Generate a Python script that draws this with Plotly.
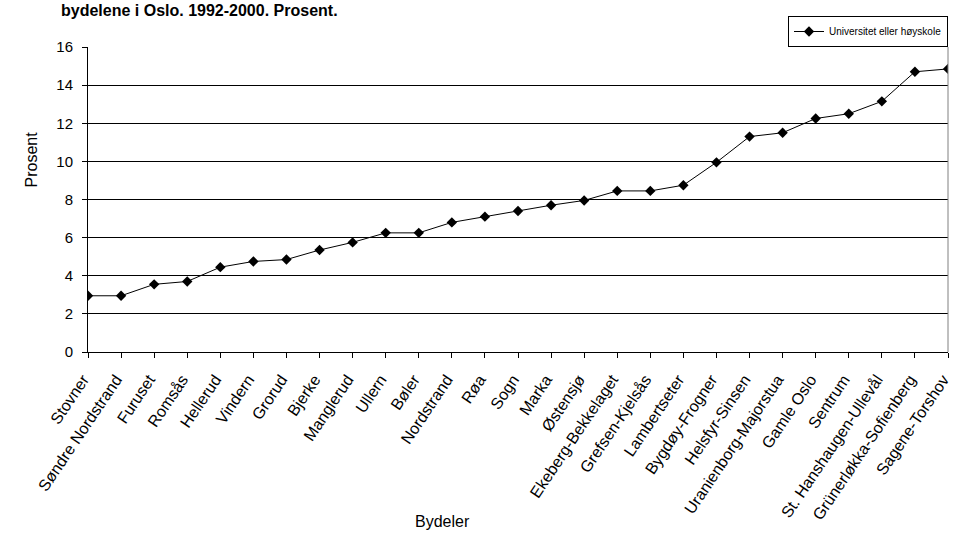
import plotly.graph_objects as go

bydeler = ["Stovner", "Søndre Nordstrand", "Furuset", "Romsås", "Hellerud", "Vindern",
           "Grorud", "Bjerke", "Manglerud", "Ullern", "Bøler", "Nordstrand", "Røa", "Sogn",
           "Marka", "Østensjø", "Ekeberg-Bekkelaget", "Grefsen-Kjelsås", "Lambertseter",
           "Bygdøy-Frogner", "Helsfyr-Sinsen", "Uranienborg-Majorstua", "Gamle Oslo",
           "Sentrum", "St. Hanshaugen-Ullevål", "Grünerløkka-Sofienberg", "Sagene-Torshov"]
prosent = [2.95, 2.95, 3.55, 3.7, 4.45, 4.75, 4.85, 5.35, 5.75, 6.25, 6.25, 6.8, 7.1, 7.4,
           7.7, 7.95, 8.45, 8.45, 8.75, 9.95, 11.3, 11.5, 12.25, 12.5, 13.15, 14.7, 14.85]
y_ticks = [0, 2, 4, 6, 8, 10, 12, 14, 16]

FONT = "Liberation Sans, Arial, sans-serif"
W, H = 954, 544
L, R, T, B = 88, 6, 47, 192
PW, PH = W - L - R, H - T - B

fig = go.Figure()
fig.add_trace(go.Scatter(
    x=list(range(len(bydeler))), y=prosent, mode="lines+markers",
    name="Universitet eller høyskole",
    line=dict(color="#000000", width=1),
    marker=dict(symbol="diamond", size=8, color="#000000"),
))

fig.update_layout(
    width=W, height=H,
    margin=dict(l=L, r=R, t=T, b=B, autoexpand=False),
    paper_bgcolor="white", plot_bgcolor="white",
    font=dict(family=FONT, color="#000000", size=12),
    title=dict(text="<b>bydelene i Oslo. 1992-2000. Prosent.</b>", x=61/W, xanchor="left",
               xref="container", y=1 - 10/H, yanchor="middle", yref="container",
               font=dict(size=16, family=FONT)),
    showlegend=True,
    legend=dict(x=948/W, xanchor="right", xref="container",
                y=1 - 16/H, yanchor="top", yref="container",
                bordercolor="#000000", borderwidth=1, bgcolor="white",
                font=dict(size=10, family=FONT), itemwidth=30,
                tracegroupgap=0),
    xaxis=dict(
        tickmode="array", tickvals=list(range(len(bydeler))), ticktext=bydeler,
        range=[0, len(bydeler) - 1], tickangle=-56, showgrid=False,
        showline=True, linecolor="#000000", linewidth=1,
        ticks="outside", ticklen=5, tickcolor="#000000",
        tickfont=dict(size=16), zeroline=False, automargin=False,
        ticklabelstandoff=6, ticklabelshift=-5, ticklabeloverflow="allow",
    ),
    yaxis=dict(
        range=[0, 16], tickmode="array", tickvals=y_ticks,
        showgrid=True, gridcolor="#000000", gridwidth=1,
        showline=True, linecolor="#000000", linewidth=1,
        ticks="outside", ticklen=5, tickcolor="#000000",
        tickfont=dict(size=15), zeroline=False, automargin=False,
        ticklabelstandoff=6,
    ),
    annotations=[
        dict(text="Prosent", x=(20 - L) / PW, y=(T + PH - 160) / PH,
             xref="paper", yref="paper", showarrow=False, textangle=-90,
             font=dict(size=16)),
        dict(text="Bydeler", x=(442 - L) / PW, y=(T + PH - 532) / PH,
             xref="paper", yref="paper", showarrow=False, font=dict(size=16)),
    ],
)
fig.add_shape(type="line", xref="paper", yref="paper", x0=1, x1=1, y0=0, y1=1,
              line=dict(color="#808080", width=1))

fig.write_html("out.html", config={"displayModeBar": False},
               post_script="document.body.style.margin='0';document.body.style.overflow='hidden';")
